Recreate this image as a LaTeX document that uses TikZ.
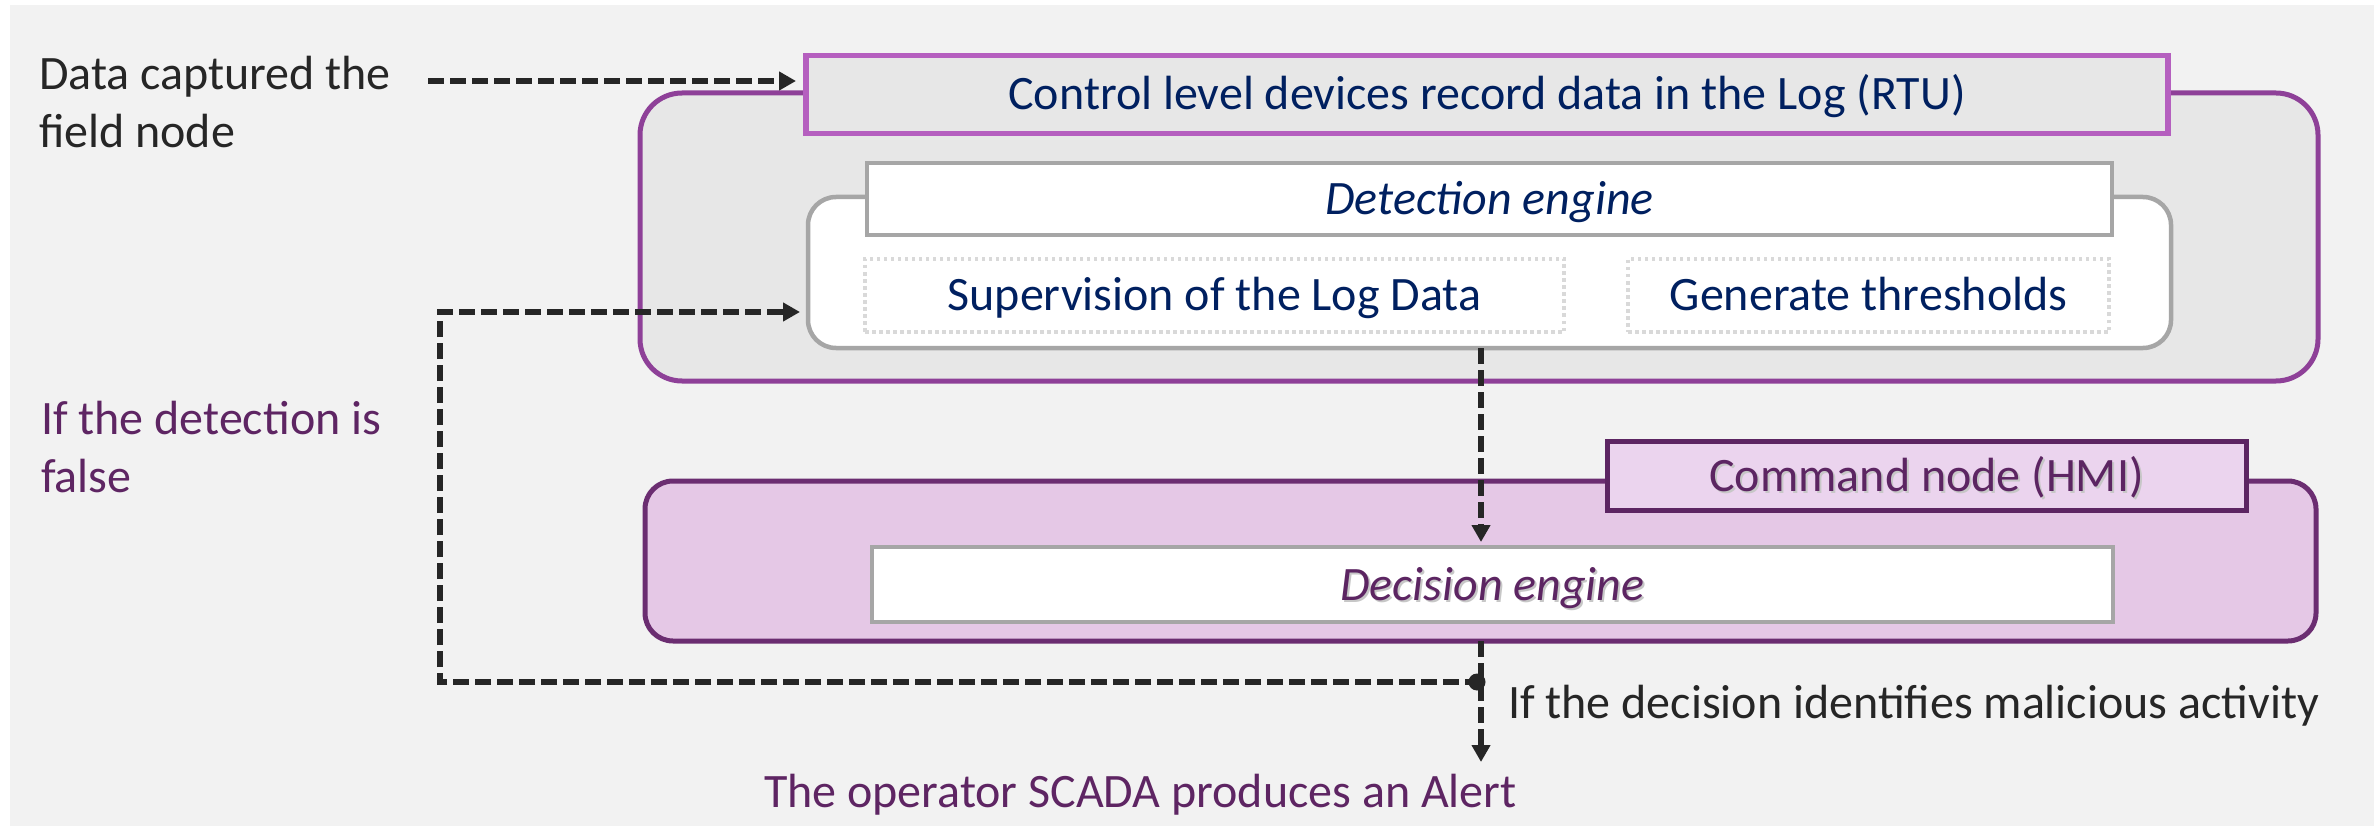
\documentclass[tikz,border=0pt]{standalone}
\usepackage{fontspec}
\setmainfont{Carlito}
\usetikzlibrary{arrows.meta}

% palette
\definecolor{bgc}{HTML}{F2F2F2}
\definecolor{panel}{HTML}{E7E7E7}
\definecolor{orchid}{HTML}{B55FBF}
\definecolor{plum}{HTML}{8E4098}
\definecolor{framegray}{HTML}{A6A6A6}
\definecolor{dotgray}{HTML}{D9D9D9}
\definecolor{navy}{HTML}{002060}
\definecolor{hmifill}{HTML}{E5C8E6}
\definecolor{hmihead}{HTML}{EBD4EE}
\definecolor{hmiline}{HTML}{6B2D71}
\definecolor{headline}{HTML}{5C2562}
\definecolor{ptext}{HTML}{5E2563}
\definecolor{ink}{HTML}{262626}
\definecolor{arrowc}{HTML}{262626}

% two stacked lines whose baseline is the first one
\newcommand\twoline[2]{\vtop{\hbox{#1}\hbox{#2}}}
% text with a soft drop shadow
\newcommand\shadowed[1]{\makebox[0pt][l]{\hspace*{2pt}\raisebox{-2pt}{\textcolor{black!22}{#1}}}#1}

\tikzset{
  lbl/.style={font=\fontsize{48}{58}\selectfont, inner sep=0pt, outer sep=0pt},
  boxtxt/.style={font=\fontsize{48}{58}\selectfont, text height=41pt, text depth=10pt},
  frame/.style 2 args={rectangle, minimum width=#1, minimum height=#2, inner sep=0pt, outer sep=0pt},
  dotbox/.style={draw=dotgray, fill=white, line width=3.5pt, dash pattern=on 3.5pt off 3.5pt},
  conn/.style={draw=arrowc, line width=6pt, dash pattern=on 16pt off 6pt,
    -{Triangle[length=17pt,width=18pt]}},
}

\begin{document}
\begin{tikzpicture}[x=1pt,y=-1pt]
\useasboundingbox (0,0) rectangle (2374,826);
\fill[white] (0,0) rectangle (2374,826);
\fill[bgc] (10,5) rectangle (2374,826);

% RTU level
\node[frame={1678pt}{288pt}, draw=plum, fill=panel, line width=5pt, rounded corners=42pt] (rtu) at (1479,237) {};
\node[frame={1362pt}{78pt}, draw=orchid, fill=panel, line width=5.5pt, boxtxt, text=navy] (rtuHead) at (1487,94.5)
  {Control level devices record data in the Log (RTU)};

% detection engine
\node[frame={1363pt}{151pt}, draw=framegray, fill=white, line width=4.5pt, rounded corners=28pt] (det) at (1489.5,272.5) {};
\node[frame={1245pt}{72pt}, draw=framegray, fill=white, line width=4.5pt, boxtxt, text=navy, font=\fontsize{48}{58}\selectfont\itshape] (detHead) at (1489.5,199)
  {Detection engine};
\node[frame={699pt}{73pt}, dotbox, boxtxt, text=navy] (sup) at (1214.5,295.5) {Supervision of the Log Data};
\node[frame={481pt}{73pt}, dotbox, boxtxt, text=navy] (thr) at (1868.5,295.5) {Generate thresholds};

% HMI level
\node[frame={1671pt}{160pt}, draw=hmiline, fill=hmifill, line width=5pt, rounded corners=28pt] (hmi) at (1480.5,561) {};
\node[frame={639pt}{69pt}, draw=headline, fill=hmihead, line width=5pt, boxtxt, text=headline] (hmiHead) at (1926.5,475.5)
  {\shadowed{Command node (HMI)}};
\node[frame={1241pt}{75pt}, draw=framegray, fill=white, line width=4.5pt, boxtxt, text=headline, font=\fontsize{48}{58}\selectfont\itshape] (dec) at (1492.5,584.5)
  {\shadowed{Decision engine}};

% free texts
\node[lbl, anchor=base west, text=ink] (dataTxt) at (39,90) {\twoline{Data captured the}{field node}};
\node[lbl, anchor=base west, text=ptext] (falseTxt) at (41,434) {\twoline{If the detection is}{false}};
\node[lbl, anchor=base west, text=ink] (malTxt) at (1508,718) {If the decision identifies malicious activity};
\node[lbl, anchor=base west, text=ptext] (alertTxt) at (764,807) {The operator SCADA produces an Alert};

% connectors
\coordinate (dataStart) at (428,81);
\coordinate (junction) at (1481,682);
\coordinate (loopCorner) at (440,682);
\coordinate (loopTop) at (440,312);
\coordinate (alertTip) at (1481,762);

\draw[conn, shorten >=10pt] (dataStart) -- (rtuHead.west |- dataStart);
\draw[conn, shorten >=8pt] (junction) -- (loopCorner) -- (loopTop) -- (det.west |- loopTop);
\draw[conn, shorten >=5pt] (det.south -| junction) -- (dec.north -| junction);
\draw[conn] (hmi.south -| junction) -- (alertTip);
\fill[arrowc] ([xshift=-4pt]junction) circle[radius=8.5pt];
\end{tikzpicture}
\end{document}
